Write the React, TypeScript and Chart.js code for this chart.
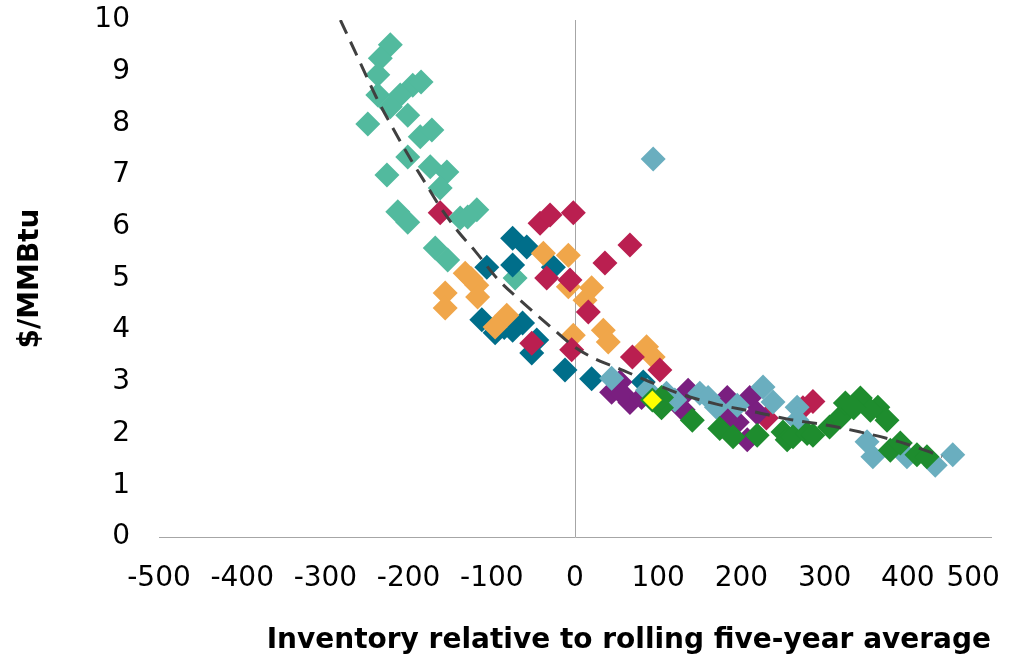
import React, { useEffect, useRef } from "react";
import { Chart, registerables } from "chart.js";

Chart.register(...registerables);

// Price ($/MMBtu) against storage inventory relative to the rolling five-year average.
const tealPoints: [number, number][] = [
  [-222, 9.52], [-234, 9.26], [-237, 8.94], [-237, 8.55], [-195, 8.74], [-185, 8.8],
  [-210, 8.55], [-222, 8.32], [-201, 8.16], [-249, 7.99], [-186, 7.74], [-172, 7.87],
  [-201, 7.35], [-174, 7.16], [-154, 7.06], [-226, 7.0], [-162, 6.75], [-213, 6.29],
  [-201, 6.09], [-138, 6.17], [-118, 6.33], [-129, 6.19], [-168, 5.59], [-153, 5.36],
  [-72, 5.01],
];

const petrolPoints: [number, number][] = [
  [-75, 5.78], [-58, 5.61], [-106, 5.22], [-75, 5.26], [-26, 5.22], [-112, 4.2],
  [-96, 3.95], [-63, 4.14], [-75, 4.0], [-46, 3.81], [-52, 3.56], [-85, 4.05],
  [-12, 3.23], [20, 3.06], [82, 3.0],
];

const orangePoints: [number, number][] = [
  [-38, 5.49], [-8, 5.45], [-132, 5.1], [-118, 4.87], [-117, 4.64], [-156, 4.72],
  [-156, 4.43], [-82, 4.29], [-96, 4.06], [-8, 4.84], [20, 4.82], [12, 4.58],
  [-2, 3.9], [34, 4.0], [40, 3.77], [86, 3.68], [94, 3.48], [-125, 5.0],
];

const crimsonPoints: [number, number][] = [
  [-162, 6.27], [-42, 6.07], [-30, 6.23], [-2, 6.27], [66, 5.65], [36, 5.3],
  [-34, 5.01], [-6, 4.97], [16, 4.35], [-52, 3.75], [-4, 3.62], [69, 3.48],
  [102, 3.23], [274, 2.5], [286, 2.62], [230, 2.3],
];

const purplePoints: [number, number][] = [
  [44, 2.8], [66, 2.6], [54, 3.0], [58, 2.75], [136, 2.84], [130, 2.46],
  [183, 2.7], [210, 2.7], [195, 2.22], [207, 1.88], [219, 2.4], [186, 2.3], [80, 2.7],
];

const skyPoints: [number, number][] = [
  [44, 3.07], [87, 2.84], [110, 2.78], [150, 2.78], [170, 2.51], [195, 2.55],
  [226, 2.9], [238, 2.61], [267, 2.51], [267, 2.26], [120, 2.65], [160, 2.7],
  [351, 1.84], [358, 1.55], [399, 1.55], [433, 1.39], [454, 1.59], [94, 7.31],
];

const greenPoints: [number, number][] = [
  [104, 2.5], [104, 2.7], [141, 2.26], [174, 2.1], [190, 1.94], [219, 1.97],
  [250, 2.03], [255, 1.88], [262, 1.94], [279, 2.0], [286, 1.97], [306, 2.13],
  [319, 2.32], [325, 2.59], [343, 2.69], [364, 2.51], [375, 2.26], [379, 1.68],
  [391, 1.82], [411, 1.59], [423, 1.55], [355, 2.45], [335, 2.5],
];

const latestPoint: [number, number][] = [[93, 2.65]];

// Fitted trend curve
const trendPoints: [number, number][] = [
  [-282, 10.0], [-258, 9.17], [-239, 8.51], [-219, 7.91], [-197, 7.29], [-180, 6.85],
  [-162, 6.38], [-140, 5.9], [-120, 5.53], [-93, 4.99], [-61, 4.51], [-29, 4.06],
  [0, 3.67], [30, 3.4], [48, 3.29], [90, 3.0], [126, 2.77], [170, 2.57], [216, 2.42],
  [256, 2.28], [300, 2.17], [343, 2.03], [386, 1.86], [427, 1.64], [441, 1.55],
];

const xTitle = "Inventory relative to rolling five-year average";
const yTitle = "$/MMBtu";

const toXY = (pts: [number, number][]) => pts.map(([x, y]) => ({ x, y }));

const scatterSet = (data: [number, number][], color: string, order: number) => ({
  type: "scatter" as const,
  data: toXY(data),
  backgroundColor: color,
  borderColor: color,
  borderWidth: 0,
  pointStyle: "rectRot" as const,
  pointRadius: 12.5,
  pointHoverRadius: 12.5,
  order,
});

export default function App() {
  const canvasRef = useRef<HTMLCanvasElement | null>(null);

  useEffect(() => {
    if (!canvasRef.current) return;
    const tickFont = { family: "'DejaVu Sans', sans-serif", size: 28 };
    const titleFont = { family: "'DejaVu Sans', sans-serif", size: 28, weight: "bold" as const };

    const chart = new Chart(canvasRef.current, {
      type: "scatter",
      data: {
        datasets: [
          {
            type: "line",
            data: toXY(trendPoints),
            borderColor: "#404040",
            borderWidth: 3,
            borderDash: [15, 9],
            pointRadius: 0,
            fill: false,
            cubicInterpolationMode: "monotone",
            order: 0,
          } as any,
          {
            ...scatterSet(latestPoint, "#FFFF00", 1),
            borderColor: "#1E8C2E",
            borderWidth: 2,
            pointRadius: 11,
          },
          scatterSet(greenPoints, "#1E8C2E", 2),
          scatterSet(skyPoints, "#6AAEBF", 3),
          scatterSet(purplePoints, "#7A1F80", 4),
          scatterSet(crimsonPoints, "#BA1F50", 5),
          scatterSet(orangePoints, "#F0A64A", 6),
          scatterSet(petrolPoints, "#006E8A", 7),
          scatterSet(tealPoints, "#52BA9E", 8),
        ],
      },
      options: {
        animation: false,
        responsive: false,
        devicePixelRatio: 1,
        layout: { padding: { left: 0, right: 32, top: 20, bottom: 0 } },
        plugins: { legend: { display: false }, tooltip: { enabled: false } },
        scales: {
          x: {
            type: "linear",
            min: -500,
            max: 500,
            afterFit: (s: any) => {
              s.height = 123;
              // the last label is nudged inward, so it must not widen the right margin
              s.paddingRight = 0;
            },
            ticks: {
              stepSize: 100,
              autoSkip: false,
              color: "#000",
              font: tickFont,
              padding: 3,
              maxRotation: 0,
              // keep the end label inside the chart edge
              callback: (v: any) => (v === 500 ? "500    " : String(v)),
            },
            grid: {
              drawTicks: true,
              tickLength: 22,
              tickColor: "rgba(0,0,0,0)",
              lineWidth: 1,
              color: (ctx: any) => (ctx.tick && ctx.tick.value === 0 ? "#A6A6A6" : "rgba(0,0,0,0)"),
            },
            border: { display: true, color: "#A6A6A6", width: 1 },
            title: {
              display: true,
              text: xTitle,
              color: "#000",
              font: titleFont,
              align: "end",
              padding: { top: 0, bottom: 2 },
            },
          },
          y: {
            type: "linear",
            min: 0,
            max: 10,
            afterFit: (s: any) => {
              s.width = 159;
            },
            ticks: { stepSize: 1, color: "#000", font: tickFont, padding: 3 },
            grid: { display: false, drawTicks: true, tickLength: 26 },
            border: { display: false },
            title: {
              display: true,
              text: yTitle,
              color: "#000",
              font: titleFont,
              padding: { top: 14, bottom: 0 },
            },
          },
        },
      },
    });
    return () => chart.destroy();
  }, []);

  return (
    <div style={{ position: "fixed", left: 0, top: 0, width: 1023, height: 660, background: "#fff" }}>
      <canvas ref={canvasRef} width={1023} height={660} />
    </div>
  );
}
